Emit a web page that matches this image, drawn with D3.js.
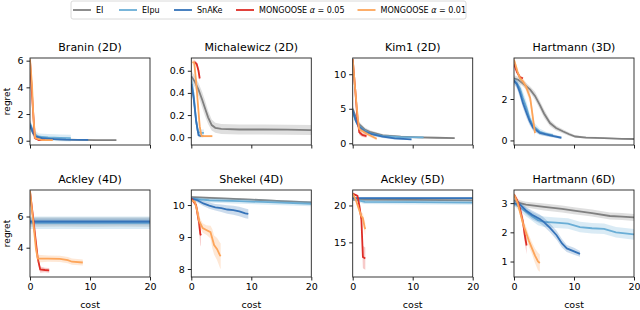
<!DOCTYPE html>
<html>
<head>
<meta charset="utf-8">
<script src="https://cdn.jsdelivr.net/npm/d3@7"></script>
<style>
  body { margin: 0; background: #fff; }
  text { font-family: 'DejaVu Sans', sans-serif; fill: #000; }
</style>
</head>
<body>
<script>
// methods, in plotting order
const methods = ['EI', 'EIpu', 'SnAKe', 'MONGOOSE α = 0.05', 'MONGOOSE α = 0.01']
const colors = ['#808080', '#6aaed6', '#3573b9', '#de2d26', '#fda55a']

const titles = ['Branin (2D)', 'Michalewicz (2D)', 'Kim1 (2D)', 'Hartmann (3D)',
                'Ackley (4D)', 'Shekel (4D)', 'Ackley (5D)', 'Hartmann (6D)']
const xTicks = [0, 10, 20]
const yTicks = [[0, 2, 4, 6], [0, 0.2, 0.4, 0.6], [0, 5, 10], [0, 2],
                [4, 6], [8, 9, 10], [15, 20], [1, 2, 3]]
const yDomains = [[-0.32, 6.2], [-0.07, 0.715], [-0.25, 12.35], [-0.22, 3.98],
                  [2.12, 7.7], [7.75, 10.47], [10.3, 22.1], [0.47, 3.45]]

// each run: [cost, mean regret, half band]
const branin = [
  [[0,1.2,0.3],[0.5,0.6,0.25],[1,0.35,0.2],[1.5,0.25,0.15],[3,0.15,0.1],[5,0.1,0.06],[8,0.07,0.04],[11,0.05,0.03],[14.4,0.05,0.03]],
  [[0,1.3,0.3],[0.5,0.7,0.3],[1,0.4,0.3],[1.5,0.3,0.25],[3,0.25,0.25],[5,0.22,0.25],[6.8,0.2,0.25]],
  [[0,1.2,0.3],[0.5,0.6,0.2],[1,0.3,0.1],[2,0.2,0.08],[4,0.12,0.05],[6,0.08,0.03],[9.7,0.06,0.02]],
  [[0,6.0,0.2],[0.4,3.0,0.3],[0.8,0.2,0.1],[1.5,0.05,0.03],[2.5,0.04,0.02]],
  [[0,6.1,0.2],[0.33,4.2,0.4],[0.55,1.9,0.3],[0.85,0.2,0.08],[2,0.05,0.03],[3.8,0.04,0.02]]
]
const michalewicz = [
  [[0,0.55,0.05],[0.6,0.5,0.05],[1.2,0.43,0.06],[1.8,0.34,0.07],[2.3,0.26,0.07],[2.8,0.18,0.06],[3.4,0.11,0.05],[4,0.085,0.045],[5,0.075,0.045],[8,0.07,0.045],[12,0.07,0.045],[16,0.068,0.045],[20,0.065,0.045]],
  [[0,0.52,0.06],[0.4,0.38,0.08],[0.8,0.15,0.06],[1.1,0.05,0.03],[1.5,0.04,0.03],[2.1,0.04,0.03]],
  [[0,0.48,0.05],[0.4,0.35,0.06],[0.8,0.15,0.05],[1.2,0.02,0.02],[1.6,0.01,0.01],[2.0,0.01,0.01]],
  [[0.5,0.68,0.02],[0.9,0.66,0.02],[1.2,0.6,0.03],[1.4,0.53,0.03]],
  [[0.2,0.68,0.02],[0.5,0.67,0.03],[0.8,0.5,0.05],[1.1,0.3,0.06],[1.4,0.1,0.04],[1.7,0.01,0.01],[2.5,0.01,0.01],[3.5,0.01,0.01]]
]
const kim1 = [
  [[0,5,0.5],[0.5,3.8,0.4],[1,2.8,0.4],[2,2.0,0.3],[3,1.6,0.25],[5,1.15,0.2],[8,0.95,0.15],[11,0.85,0.12],[14,0.8,0.1],[17,0.75,0.1]],
  [[0,4.6,0.5],[0.5,3.3,0.4],[1,2.5,0.35],[2,1.8,0.3],[3,1.4,0.25],[5,1.05,0.2],[8,0.9,0.15],[11.8,0.85,0.12]],
  [[0,4.8,0.5],[0.5,3.3,0.4],[1,2.4,0.35],[2,1.7,0.3],[3,1.35,0.25],[5,0.95,0.2],[7,0.7,0.15],[9.8,0.55,0.12]],
  [[0,12.2,0.3],[0.4,8,0.6],[0.8,3.5,0.6],[1.1,1.6,0.4],[1.6,1.2,0.3],[2.3,1.05,0.25]],
  [[0,12.2,0.3],[0.3,9,0.6],[0.7,5,0.6],[1.05,2.1,0.4],[1.5,1.8,0.3],[2.5,1.3,0.25],[4,0.65,0.2]]
]
const hartmann3 = [
  [[0,3.0,0.15],[0.7,2.93,0.15],[1.5,2.75,0.15],[2.7,2.45,0.15],[3.5,2.15,0.2],[4.3,1.72,0.2],[5,1.3,0.2],[6,0.84,0.15],[7,0.6,0.12],[8.2,0.43,0.1],[9.2,0.3,0.08],[10.2,0.19,0.06],[12,0.14,0.05],[15,0.11,0.04],[18,0.08,0.03],[20,0.07,0.03]],
  [[0,2.85,0.15],[0.5,2.75,0.2],[1,2.5,0.25],[1.5,2.05,0.3],[2.1,1.55,0.3],[2.6,1.05,0.25],[3.2,0.7,0.2],[4.3,0.42,0.15],[5.5,0.3,0.1],[6.5,0.25,0.08]],
  [[0,2.9,0.15],[0.5,2.7,0.2],[1,2.3,0.25],[1.5,1.8,0.25],[2.1,1.32,0.25],[2.6,0.95,0.2],[3.2,0.6,0.15],[4.3,0.36,0.1],[6,0.25,0.08],[7.9,0.13,0.06]],
  [[0,3.7,0.1],[0.5,3.3,0.1],[1,3.05,0.08],[1.5,3.0,0.05]],
  [[0,3.9,0.1],[0.3,3.6,0.15],[0.6,3.3,0.15],[1,3.0,0.15],[1.5,2.85,0.15],[2,2.6,0.2],[2.7,2.05,0.25],[3.1,1.2,0.3],[3.5,0.35,0.2]]
]
const ackley4 = [
  [[0,5.65,0.3],[5,5.66,0.3],[10,5.65,0.3],[15,5.66,0.3],[20,5.65,0.3]],
  [[0,5.6,0.4],[5,5.6,0.4],[10,5.6,0.4],[15,5.6,0.4],[20,5.6,0.4]],
  [[0,5.68,0.2],[5,5.68,0.2],[10,5.68,0.2],[15,5.68,0.2],[20,5.68,0.2]],
  [[0,7.6,0.1],[0.5,6.0,0.3],[1.0,4.3,0.3],[1.3,3.3,0.25],[1.7,2.6,0.2],[2.5,2.57,0.15],[3.2,2.55,0.15]],
  [[0,7.65,0.1],[0.5,5.8,0.3],[1.0,3.9,0.3],[1.3,3.3,0.25],[3,3.3,0.2],[5,3.28,0.2],[6.3,3.2,0.2],[7,3.1,0.2],[8.8,3.05,0.2]]
]
const shekel = [
  [[0,10.25,0.03],[5,10.21,0.03],[10,10.17,0.03],[15,10.12,0.03],[20,10.08,0.03]],
  [[0,10.2,0.05],[3,10.15,0.07],[8,10.12,0.08],[14,10.08,0.08],[20,10.04,0.08]],
  [[0,10.2,0.05],[1,10.15,0.07],[2,10.05,0.08],[3,9.98,0.1],[4,9.93,0.1],[5,9.9,0.12],[6,9.86,0.13],[7,9.84,0.14],[8,9.8,0.15],[9,9.74,0.15],[9.5,9.72,0.15]],
  [[0,10.2,0.03],[0.8,10.0,0.1],[1.05,9.7,0.2],[1.3,9.45,0.3],[1.5,9.1,0.35],[1.6,9.05,0.35]],
  [[0,10.15,0.03],[0.6,10.1,0.05],[1.0,9.8,0.1],[1.3,9.5,0.15],[1.9,9.28,0.15],[2.5,9.22,0.15],[3.2,9.15,0.2],[3.5,8.95,0.3],[3.8,8.75,0.3],[4.3,8.62,0.35],[4.8,8.42,0.4],[4.9,8.4,0.4]]
]
const ackley5 = [
  [[0,20.8,0.2],[10,20.75,0.2],[20,20.7,0.2]],
  [[0,21.0,0.3],[1,20.7,0.3],[2,20.5,0.3],[10,20.45,0.3],[20,20.4,0.3]],
  [[0,21.0,0.15],[10,21.0,0.15],[20,21.0,0.15]],
  [[0,21.6,0.1],[0.8,21.3,0.15],[1.1,20.0,0.5],[1.45,18.1,0.6],[1.7,13.0,1.5],[2.1,12.8,1.5]],
  [[0,21.6,0.1],[0.5,20.8,0.3],[1.0,19.6,0.4],[1.4,18.6,0.5],[1.7,18.3,0.6],[2.0,17.0,0.8],[2.1,16.8,0.8]]
]
const hartmann6 = [
  [[0,3.1,0.1],[1,3.0,0.1],[2,2.95,0.1],[5,2.87,0.12],[8,2.8,0.12],[10,2.74,0.12],[13,2.66,0.12],[16,2.56,0.12],[18,2.54,0.12],[20,2.51,0.12]],
  [[0,3.0,0.1],[1,2.85,0.12],[2,2.7,0.15],[3,2.55,0.15],[4,2.42,0.18],[5,2.36,0.18],[7,2.33,0.18],[9,2.3,0.18],[11,2.18,0.18],[13,2.14,0.18],[15,2.12,0.18],[17,2.0,0.18],[20,1.93,0.18]],
  [[0,3.0,0.1],[1,2.95,0.1],[2,2.75,0.12],[3,2.6,0.15],[4.3,2.46,0.15],[5,2.35,0.15],[6,2.15,0.15],[7.1,1.9,0.15],[8,1.62,0.15],[8.8,1.45,0.12],[10,1.35,0.12],[11,1.26,0.1]],
  [[0,3.3,0.05],[0.5,3.1,0.1],[1,2.8,0.15],[1.5,2.35,0.2],[1.8,1.9,0.25],[2.1,1.55,0.3]],
  [[0,3.3,0.05],[0.6,3.0,0.1],[1,2.7,0.12],[1.5,2.3,0.15],[2,2.0,0.2],[2.5,1.7,0.2],[3,1.45,0.2],[3.5,1.2,0.25],[4,1.0,0.3],[4.3,0.95,0.3]]
]
const problems = [branin, michalewicz, kim1, hartmann3, ackley4, shekel, ackley5, hartmann6]

const W = 640, H = 310
const colLeft = [30, 191.3, 352.7, 514]
const rowTop = [58, 190]
const pw = 120, ph = 87

const svg = d3.select('body')
  .append('svg')
  .attr('width', W)
  .attr('height', H)

problems.forEach((runs, i) => {
  const row = Math.floor(i / 4), col = i % 4
  const g = svg.append('g')
    .attr('transform', `translate(${colLeft[col]},${rowTop[row]})`)

  const x = d3.scaleLinear().domain([0, 20]).range([0, pw])
  const y = d3.scaleLinear().domain(yDomains[i]).range([ph, 0])

  g.append('clipPath').attr('id', 'clip' + i)
    .append('rect').attr('width', pw).attr('height', ph)

  const plot = g.append('g').attr('clip-path', `url(#clip${i})`)

  const band = d3.area()
    .x(d => x(d[0]))
    .y0(d => y(d[1] - d[2]))
    .y1(d => y(d[1] + d[2]))
  const line = d3.line()
    .x(d => x(d[0]))
    .y(d => y(d[1]))

  runs.forEach((run, k) => {
    plot.append('path')
      .attr('d', band(run))
      .attr('fill', colors[k])
      .attr('opacity', 0.25)
    plot.append('path')
      .attr('d', line(run))
      .attr('fill', 'none')
      .attr('stroke', colors[k])
      .attr('stroke-width', 1.8)
  })

  const fmt = i === 1 ? d3.format('.1f') : d3.format('d')
  const yAxis = g.append('g')
    .call(d3.axisLeft(y).tickValues(yTicks[i]).tickFormat(fmt).tickSize(3.5).tickPadding(3))
  const xAxis = g.append('g')
    .attr('transform', `translate(0,${ph})`)
    .call(d3.axisBottom(x).tickValues(xTicks).tickSize(3.5).tickPadding(3)
      .tickFormat(row === 1 ? d3.format('d') : ''))
  ;[xAxis, yAxis].forEach(a => {
    a.select('.domain').remove()
    a.selectAll('line').attr('stroke', '#222')
    a.selectAll('text').attr('font-size', 9.5).attr('font-family', 'DejaVu Sans').attr('fill', '#000')
  })

  g.append('rect')
    .attr('width', pw)
    .attr('height', ph)
    .attr('fill', 'none')
    .attr('stroke', '#222')
    .attr('stroke-width', 0.9)

  g.append('text')
    .attr('x', pw / 2)
    .attr('y', -7)
    .attr('text-anchor', 'middle')
    .attr('font-size', 11)
    .text(titles[i])

  if (col === 0) {
    g.append('text')
      .attr('transform', `translate(${-20},${ph / 2}) rotate(-90)`)
      .attr('text-anchor', 'middle')
      .attr('font-size', 9)
      .text('regret')
  }
  if (row === 1) {
    g.append('text')
      .attr('x', pw / 2)
      .attr('y', ph + 31)
      .attr('text-anchor', 'middle')
      .attr('font-size', 9.5)
      .text('cost')
  }
})

// legend
const legendX = [73, 119, 174, 236, 357.5]
const legend = svg.append('g')
legend.append('rect')
  .attr('x', 71).attr('y', 1)
  .attr('width', 395).attr('height', 18)
  .attr('rx', 2)
  .attr('fill', '#fff')
  .attr('stroke', '#d0d0d0')
  .attr('stroke-width', 0.8)

methods.forEach((m, k) => {
  legend.append('line')
    .attr('x1', legendX[k]).attr('x2', legendX[k] + 18)
    .attr('y1', 10).attr('y2', 10)
    .attr('stroke', colors[k])
    .attr('stroke-width', 1.8)
  const t = legend.append('text')
    .attr('x', legendX[k] + 23)
    .attr('y', 13)
    .attr('font-size', 8)
  const parts = m.split('α')
  t.append('tspan').text(parts[0])
  if (parts.length > 1) {
    t.append('tspan').attr('font-style', 'italic').text('α')
    t.append('tspan').text(parts[1])
  }
})
</script>
</body>
</html>
